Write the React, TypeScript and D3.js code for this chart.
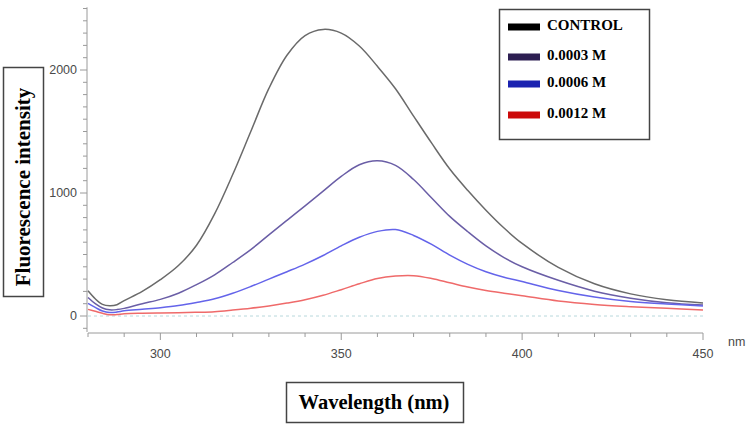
import { useEffect, useRef } from 'react';
import * as d3 from 'd3';

// wavelength grid (nm) and intensities per concentration
const wavelengths = [280, 282, 284, 286, 288, 290, 295, 300, 305, 310, 315, 320, 325, 330, 335, 340, 345, 350, 355, 360, 365, 370, 375, 380, 385, 390, 395, 400, 410, 420, 430, 440, 450];
const control = [205, 140, 95, 84, 92, 125, 200, 295, 410, 575, 830, 1150, 1500, 1850, 2120, 2280, 2330, 2300, 2195, 2030, 1848, 1625, 1405, 1195, 1020, 860, 715, 590, 395, 262, 180, 132, 106];
const m0003 = [150, 100, 65, 50, 52, 62, 100, 135, 185, 255, 335, 435, 540, 660, 778, 895, 1015, 1135, 1230, 1262, 1225, 1110, 960, 810, 685, 570, 475, 400, 290, 202, 145, 108, 89];
const m0006 = [103, 70, 40, 28, 32, 42, 55, 68, 85, 110, 140, 185, 240, 300, 360, 422, 492, 570, 640, 688, 703, 655, 582, 495, 420, 360, 315, 280, 208, 155, 118, 98, 82];
const m0012 = [54, 38, 22, 10, 12, 18, 22, 24, 27, 30, 35, 48, 63, 82, 105, 132, 168, 214, 262, 305, 325, 328, 305, 270, 235, 207, 185, 165, 122, 94, 76, 62, 49];

const seriesNames = ['CONTROL', '0.0003 M', '0.0006 M', '0.0012 M'];
const seriesValues = [control, m0003, m0006, m0012];
const lineColors = ['#6a6a6a', '#6a5ea6', '#6464ea', '#ef6a6a'];
const swatchColors = ['#000000', '#2d1f52', '#1a22b0', '#cc0a0a'];

const xTicks = [300, 350, 400, 450];
const yTicks = [0, 1000, 2000];

const App = () => {
  const svgRef = useRef<SVGSVGElement>(null);

  useEffect(() => {
    const svg = d3.select(svgRef.current);
    svg.selectAll('*').remove();

    const x = d3.scaleLinear().domain([280, 450]).range([88, 703]);
    const y = d3.scaleLinear().domain([0, 2000]).range([316, 70]);

    const axisColor = '#9a9a9a';
    const labelColor = '#4a4a4a';
    const sans = 'Liberation Sans, Arial, sans-serif';
    const serif = 'Liberation Serif, Times New Roman, serif';

    // Y axis: line, minor ticks every 100, labels every 1000
    const yAxis = svg.append('g');
    yAxis.append('line')
      .attr('x1', 87).attr('x2', 87)
      .attr('y1', y(2510)).attr('y2', y(-130))
      .attr('stroke', axisColor);
    yAxis.selectAll('line.tick')
      .data(d3.range(-100, 2501, 100))
      .join('line')
      .attr('class', 'tick')
      .attr('x1', d => (d % 1000 === 0 ? 80 : 83)).attr('x2', 87)
      .attr('y1', d => y(d)).attr('y2', d => y(d))
      .attr('stroke', axisColor);
    yAxis.selectAll('text')
      .data(yTicks)
      .join('text')
      .attr('x', 77)
      .attr('y', d => y(d))
      .attr('dy', '0.35em')
      .attr('text-anchor', 'end')
      .attr('font-family', sans)
      .attr('font-size', 12.5)
      .attr('fill', labelColor)
      .text(d => d);

    // X axis
    const xAxis = svg.append('g');
    xAxis.append('line')
      .attr('x1', x(280)).attr('x2', x(450))
      .attr('y1', 333).attr('y2', 333)
      .attr('stroke', axisColor);
    xAxis.selectAll('line.tick')
      .data(d3.range(280, 451, 10))
      .join('line')
      .attr('class', 'tick')
      .attr('x1', d => x(d)).attr('x2', d => x(d))
      .attr('y1', 333).attr('y2', d => (d % 50 === 0 ? 340 : 337))
      .attr('stroke', axisColor);
    xAxis.selectAll('text')
      .data(xTicks)
      .join('text')
      .attr('x', d => x(d))
      .attr('y', 354)
      .attr('dy', '0.35em')
      .attr('text-anchor', 'middle')
      .attr('font-family', sans)
      .attr('font-size', 12.5)
      .attr('fill', labelColor)
      .text(d => d);
    svg.append('text')
      .attr('x', 728).attr('y', 342)
      .attr('dy', '0.35em')
      .attr('font-family', sans)
      .attr('font-size', 12.5)
      .attr('fill', labelColor)
      .text('nm');

    // dashed zero baseline
    svg.append('line')
      .attr('x1', x(280)).attr('x2', x(450))
      .attr('y1', y(0)).attr('y2', y(0))
      .attr('stroke', '#b8d8dc')
      .attr('stroke-dasharray', '3,3');

    // spectra
    const line = d3.line<number>()
      .x((_, i) => x(wavelengths[i]))
      .y(d => y(d))
      .curve(d3.curveCatmullRom.alpha(0.5));

    seriesValues.forEach((vals, i) => {
      svg.append('path')
        .datum(vals)
        .attr('fill', 'none')
        .attr('stroke', lineColors[i])
        .attr('stroke-width', 1.5)
        .attr('d', line);
    });

    // Y label box
    svg.append('rect')
      .attr('x', 3.5).attr('y', 67.5).attr('width', 40).attr('height', 229)
      .attr('fill', 'none').attr('stroke', '#444').attr('stroke-width', 1.5);
    svg.append('text')
      .attr('transform', 'translate(23,187) rotate(-90)')
      .attr('dy', '0.35em')
      .attr('text-anchor', 'middle')
      .attr('font-family', serif)
      .attr('font-weight', 'bold')
      .attr('font-size', 21)
      .attr('fill', '#000')
      .text('Fluorescence intensity');

    // X label box
    svg.append('rect')
      .attr('x', 286.5).attr('y', 382.5).attr('width', 177).attr('height', 40)
      .attr('fill', 'none').attr('stroke', '#444').attr('stroke-width', 1.5);
    svg.append('text')
      .attr('x', 374).attr('y', 402)
      .attr('dy', '0.35em')
      .attr('text-anchor', 'middle')
      .attr('font-family', serif)
      .attr('font-weight', 'bold')
      .attr('font-size', 20.5)
      .attr('fill', '#000')
      .text('Wavelength (nm)');

    // Legend
    const legendY = [27, 57, 84, 115];
    const legend = svg.append('g');
    legend.append('rect')
      .attr('x', 499.5).attr('y', 9.5).attr('width', 150).attr('height', 130)
      .attr('fill', '#fff').attr('stroke', '#444').attr('stroke-width', 1.5);
    seriesNames.forEach((name, i) => {
      legend.append('rect')
        .attr('x', 508).attr('y', legendY[i] - 3.5)
        .attr('width', 32).attr('height', 7)
        .attr('fill', swatchColors[i]);
      legend.append('text')
        .attr('x', 547).attr('y', legendY[i] - 2)
        .attr('dy', '0.35em')
        .attr('font-family', serif)
        .attr('font-weight', 'bold')
        .attr('font-size', 15)
        .attr('fill', '#000')
        .text(name);
    });
  }, []);

  return (
    <svg
      ref={svgRef}
      width={748}
      height={425}
      style={{ position: 'absolute', left: 0, top: 0, background: '#fff' }}
    />
  );
};

export default App;
